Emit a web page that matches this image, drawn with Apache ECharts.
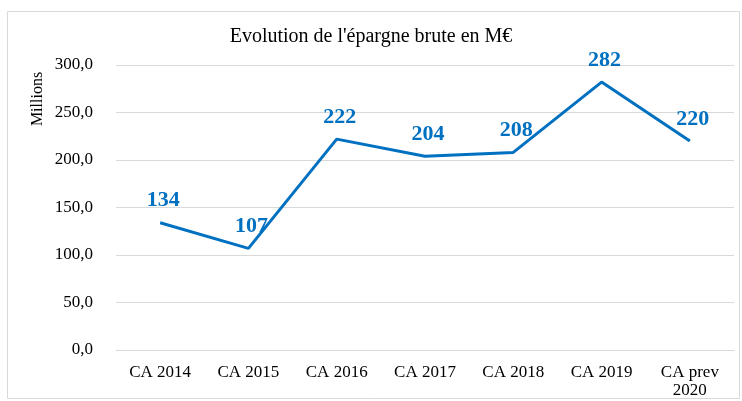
<!DOCTYPE html>
<html><head><meta charset="utf-8">
<script src="https://cdn.jsdelivr.net/npm/echarts@6/dist/echarts.min.js"></script>
<style>html,body{margin:0;padding:0;background:#fff}#c{width:742px;height:401px}</style>
</head><body><div id="c"></div>
<script>
const categories = ['CA 2014','CA 2015','CA 2016','CA 2017','CA 2018','CA 2019','CA prev\n2020'];
const values = [134,107,222,204,208,282,220];
const yTicks = {min:0, max:300, interval:50};
const title = "Evolution de l'épargne brute en M€";
const yName = 'Millions';
const font = '"Liberation Serif", "Times New Roman", serif';
const chart = echarts.init(document.getElementById('c'));
chart.setOption({
  animation:false,
  graphic:[
    {type:'rect', shape:{x:7.5,y:11.5,width:732,height:387}, style:{fill:'none',stroke:'#d9d9d9',lineWidth:1}, silent:true},
    {type:'text', x:38, y:99, rotation:Math.PI/2, style:{text:yName, font:'16px '+font, fill:'#000', align:'center', verticalAlign:'middle'}}
  ],
  title:{text:title, left:'center', top:22, textStyle:{fontFamily:font, fontSize:20, fontWeight:'normal', color:'#000'}},
  grid:{left:116, right:8, top:65, bottom:51, containLabel:false},
  xAxis:{type:'category', data:categories, boundaryGap:true,
    axisLine:{show:true, lineStyle:{color:'#d9d9d9', width:1}}, axisTick:{show:false},
    axisLabel:{fontFamily:font, fontSize:17, color:'#000', margin:14, lineHeight:18, interval:0}},
  yAxis:{type:'value', min:yTicks.min, max:yTicks.max, interval:yTicks.interval,
    axisLine:{show:false}, axisTick:{show:false},
    splitLine:{lineStyle:{color:'#d9d9d9', width:1}},
    axisLabel:{fontFamily:font, fontSize:17, color:'#000', margin:23, formatter:v=>v.toFixed(1).replace('.',',')}},
  series:[{type:'line', data:values, symbol:'circle', symbolSize:0.1, showSymbol:true, lineStyle:{color:'#0070C0', width:3}, itemStyle:{color:'#0070C0'},
    label:{show:true, position:'top', distance:11, offset:[3,0], fontFamily:font, fontSize:22, fontWeight:'bold', color:'#0070C0'}}]
});
</script></body></html>
